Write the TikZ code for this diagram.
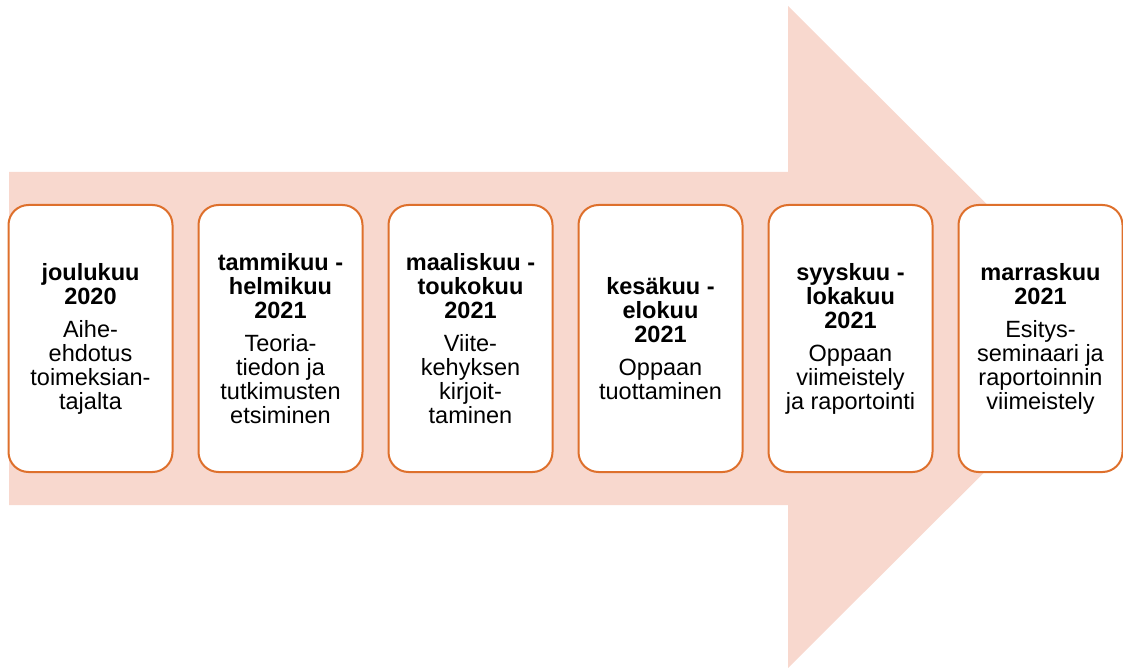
\documentclass[tikz,border=0pt]{standalone}
\usepackage{fontspec}
\setmainfont{Liberation Sans}
\definecolor{arrowpink}{RGB}{248,216,206}
\definecolor{boxorange}{RGB}{222,112,44}
\usetikzlibrary{positioning}

\begin{document}
\begin{tikzpicture}[x=1pt,y=-1pt,
    monthbox/.style={fill=white,draw=boxorange,line width=2pt,rounded corners=20pt,
      minimum width=164pt,minimum height=267pt,inner sep=2pt,align=center,
      font=\fontsize{23.5}{24}\selectfont}]
  \useasboundingbox (0,0) rectangle (1123,668);
  % big background arrow
  \fill[arrowpink] (9,172) -- (788,172) -- (788,6) -- (1120,337)
    -- (788,668) -- (788,505) -- (9,505) -- cycle;
  % the six phases
  \node[monthbox] (dec) at (90.5,338.5)
    {\textbf{joulukuu}\\\textbf{2020}\\[9pt]Aihe-\\ehdotus\\toimeksian-\\tajalta};
  \node[monthbox,right=24pt of dec] (janfeb)
    {\textbf{tammikuu -}\\\textbf{helmikuu}\\\textbf{2021}\\[9pt]Teoria-\\tiedon ja\\tutkimusten\\etsiminen};
  \node[monthbox,right=24pt of janfeb] (marmay)
    {\textbf{maaliskuu -}\\\textbf{toukokuu}\\\textbf{2021}\\[9pt]Viite-\\kehyksen\\kirjoit-\\taminen};
  \node[monthbox,right=24pt of marmay] (junaug)
    {\textbf{kesäkuu -}\\\textbf{elokuu}\\\textbf{2021}\\[9pt]Oppaan\\tuottaminen};
  \node[monthbox,right=24pt of junaug] (sepoct)
    {\textbf{syyskuu -}\\\textbf{lokakuu}\\\textbf{2021}\\[9pt]Oppaan\\viimeistely\\ja raportointi};
  \node[monthbox,right=24pt of sepoct] (nov)
    {\textbf{marraskuu}\\\textbf{2021}\\[9pt]Esitys-\\seminaari ja\\raportoinnin\\viimeistely};
\end{tikzpicture}
\end{document}
